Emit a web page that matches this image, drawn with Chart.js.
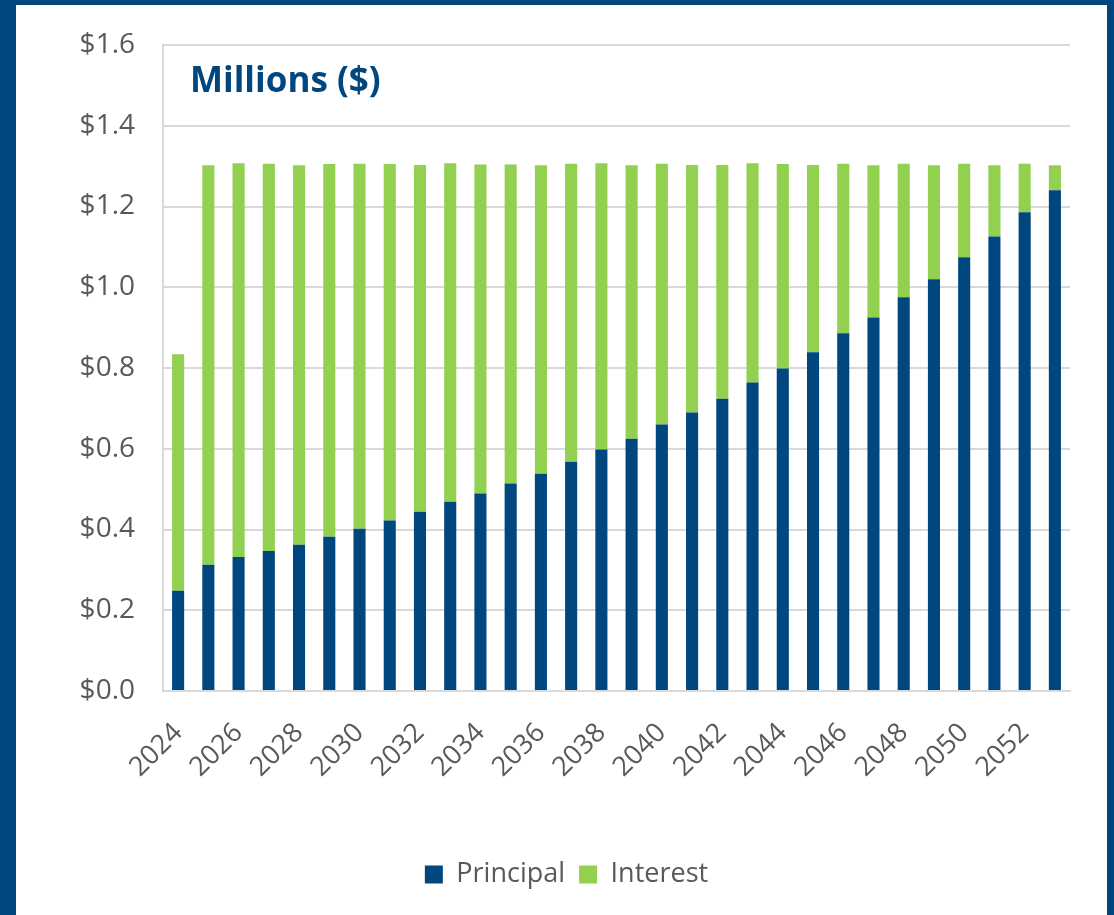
<!DOCTYPE html>
<html>
<head>
<meta charset="utf-8">
<script src="https://cdn.jsdelivr.net/npm/chart.js@4"></script>
<style>
  html, body { margin: 0; padding: 0; background: #fff; }
  #frame {
    position: absolute; left: 0; top: 0;
    width: 1114px; height: 915px;
    box-sizing: border-box;
    border-left: 16px solid #00467f;
    border-top: 5px solid #00467f;
    border-right: 7px solid #00467f;
    background: #fff;
  }
  #debtChart { display: block; }
</style>
</head>
<body>
<div id="frame">
  <canvas id="debtChart" width="1091" height="910"></canvas>
</div>
<script>
let years = [];
for (let y = 2024; y <= 2053; y++) years.push(String(y));

// millions of dollars
let principal = [0.248, 0.313, 0.332, 0.347, 0.362, 0.382, 0.402, 0.422, 0.444, 0.469,
                 0.489, 0.514, 0.538, 0.568, 0.598, 0.625, 0.660, 0.690, 0.724, 0.764,
                 0.799, 0.839, 0.886, 0.925, 0.975, 1.020, 1.074, 1.126, 1.186, 1.240];
let interest  = [0.586, 0.989, 0.975, 0.959, 0.940, 0.923, 0.904, 0.883, 0.859, 0.838,
                 0.815, 0.790, 0.764, 0.738, 0.709, 0.677, 0.646, 0.613, 0.579, 0.543,
                 0.506, 0.464, 0.420, 0.377, 0.331, 0.282, 0.232, 0.176, 0.120, 0.062];
let yTicks = [0, 0.2, 0.4, 0.6, 0.8, 1.0, 1.2, 1.4, 1.6];

let navy = '#00467f';
let green = '#92d050';
let gridGray = '#d9d9d9';
let textGray = '#595959';
let fontName = '"Open Sans", "Liberation Sans", sans-serif';

// "Millions ($)" sits inside the plot area, top left
let innerTitle = {
  id: 'innerTitle',
  afterDraw: function (chart) {
    let ctx = chart.ctx;
    ctx.save();
    ctx.font = 'bold 35px ' + fontName;
    ctx.fillStyle = navy;
    ctx.textBaseline = 'alphabetic';
    ctx.fillText('Millions ($)', chart.chartArea.left + 27, chart.chartArea.top + 47);
    ctx.restore();
  }
};

let debtChart = new Chart(document.getElementById('debtChart').getContext('2d'), {
  type: 'bar',
  data: {
    labels: years,
    datasets: [
      { label: 'Principal', data: principal, backgroundColor: navy },
      { label: 'Interest', data: interest, backgroundColor: green }
    ]
  },
  options: {
    responsive: false,
    animation: false,
    layout: { padding: { left: 47, right: 37, top: 40, bottom: 17 } },
    datasets: { bar: { barPercentage: 0.4, categoryPercentage: 1.0 } },
    plugins: {
      legend: {
        position: 'bottom',
        labels: {
          color: textGray,
          font: { family: fontName, size: 27 },
          boxWidth: 18,
          boxHeight: 18,
          padding: 14
        }
      },
      tooltip: { enabled: false }
    },
    scales: {
      x: {
        stacked: true,
        grid: { display: false, drawTicks: false },
        border: { display: true, color: gridGray, width: 2 },
        ticks: {
          autoSkip: false,
          maxRotation: 45,
          minRotation: 45,
          padding: 26,
          color: textGray,
          font: { family: fontName, size: 27 },
          callback: function (val, i) { return i % 2 === 0 ? years[i] : ''; }
        },
        afterFit: function (scale) { scale.height = 156; }
      },
      y: {
        stacked: true,
        min: yTicks[0],
        max: yTicks[yTicks.length - 1],
        afterBuildTicks: function (scale) {
          scale.ticks = yTicks.map(function (v) { return { value: v }; });
        },
        grid: { color: gridGray, lineWidth: 2, drawTicks: false },
        border: { display: true, color: gridGray, width: 2 },
        ticks: {
          padding: 28,
          color: textGray,
          font: { family: fontName, size: 28 },
          callback: function (v) { return '$' + Number(v).toFixed(1); }
        },
        afterFit: function (scale) {
          scale.width = 100;
          scale.paddingTop = 0;
          scale.paddingBottom = 0;
        }
      }
    }
  },
  plugins: [innerTitle]
});
</script>
</body>
</html>
